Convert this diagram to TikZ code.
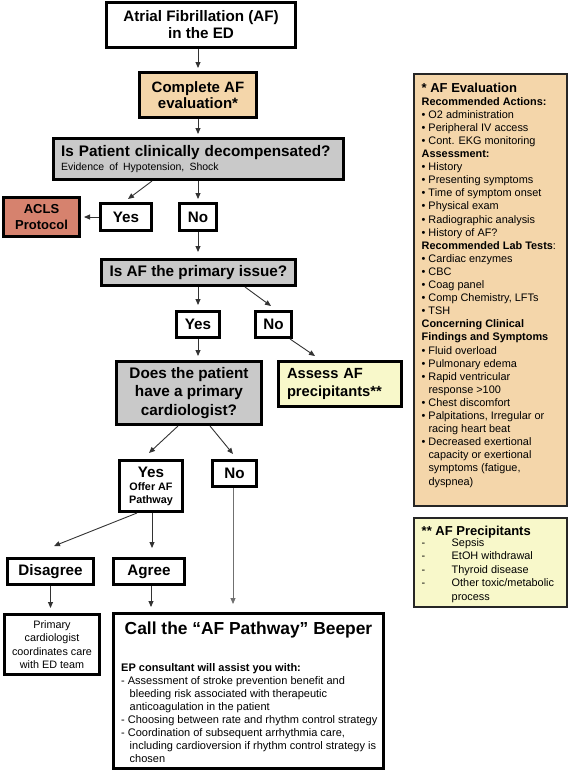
\documentclass[tikz,border=0pt]{standalone}
\usepackage{fontspec}
\setmainfont{Liberation Sans}
\usetikzlibrary{arrows.meta}
\definecolor{tanfill}{HTML}{F4D6AA}
\definecolor{grayfill}{HTML}{C9C9C9}
\definecolor{aclsfill}{HTML}{D6826E}
\definecolor{yelfill}{HTML}{F8F8CA}
\definecolor{arrgray}{HTML}{333333}
\definecolor{linegray}{HTML}{707070}
\newcommand{\fsz}[2]{\fontsize{#1}{#2}\selectfont}
\newcommand{\bul}{\makebox[6.8pt][l]{•}}
\newcommand{\ind}{\hspace*{6.8pt}}
\begin{document}
\begin{tikzpicture}[x=1pt,y=-1pt,
  bx/.style={draw=black, line width=2.6pt, inner sep=0pt, align=center,
    font=\bfseries\fsz{15.2}{17}},
  sz/.style 2 args={minimum width=#1pt-2.6pt, minimum height=#2pt-2.6pt},
  side/.style={draw=black!85, line width=2pt, inner sep=0pt},
  arr/.style={draw=arrgray, line width=0.9pt, -{Triangle[length=6pt,width=5pt]}},
]
\useasboundingbox (0,0) rectangle (569,771);

% main flow boxes
\node[bx, sz={192}{48}] (top) at (201,25) {Atrial Fibrillation (AF)\\in the ED};
\node[bx, sz={120}{48}, fill=tanfill, font=\bfseries\fsz{15}{16.7}] (eval) at (198,95) {Complete AF\\evaluation*};
\node[bx, sz={293}{44}, fill=grayfill, text width=275pt, align=left, font=\bfseries\fsz{15.3}{17}] (decomp) at (198.5,159)
  {Is Patient clinically decompensated?\\[-3.7pt]{\mdseries\fsz{10.5}{13}Evidence of Hypotension, Shock}};
\node[bx, sz={79}{42}, fill=aclsfill, font=\bfseries\fsz{13}{15.3}] (acls) at (41.5,217) {ACLS\\Protocol};
\node[bx, sz={54}{30}] (yes1) at (126,217) {Yes};
\node[bx, sz={40}{30}] (no1) at (198,217) {No};
\node[bx, sz={197}{29}, fill=grayfill, font=\bfseries\fsz{15.3}{17}] (pi) at (198.5,272.5) {Is AF the primary issue?};
\node[bx, sz={46}{29}] (yes2) at (198,324.5) {Yes};
\node[bx, sz={39}{29}] (no2) at (273.5,324.5) {No};
\node[bx, sz={148}{66}, fill=grayfill, font=\bfseries\fsz{15.3}{18.7}] (does) at (189,393) {Does the patient\\have a primary\\cardiologist?};
\node[bx, sz={126}{48}, fill=yelfill, text width=106pt, inner xsep=8.7pt, align=left, font=\bfseries\fsz{14.7}{17.4}] (assess) at (340,384) {Assess AF\\precipitants**};
\node[bx, sz={66}{54}] (yes3) at (151,486) {Yes\\[-4pt]{\fsz{10.8}{13}Offer AF}\\[-4pt]{\fsz{10.8}{13}Pathway}};
\node[bx, sz={47}{29}] (no3) at (234.5,473.5) {No};
\node[bx, sz={89}{29}] (disagree) at (50.5,571.5) {Disagree};
\node[bx, sz={74}{29}] (agree) at (149,571.5) {Agree};
\node[bx, sz={98}{63}, font=\mdseries\fsz{10.8}{13.3}] (primary) at (52,644.5) {Primary\\cardiologist\\coordinates care\\with ED team};
\node[bx, sz={273}{158}] (call) at (248.5,691) {};
\node[anchor=base, inner sep=0pt, font=\bfseries\fsz{17.4}{20}] (calltitle) at (248.5,634.2) {Call the “AF Pathway” Beeper};
\node[anchor=base west, inner sep=0pt, align=left, font=\fsz{11}{13}] (callbody) at (121,762)
  {\textbf{EP consultant will  assist you with:}\\
   - Assessment of stroke prevention benefit and\\
   \hspace*{8.5pt}bleeding risk associated with therapeutic\\
   \hspace*{8.5pt}anticoagulation in the patient\\
   - Choosing between rate and rhythm control strategy\\
   - Coordination of subsequent arrhythmia care,\\
   \hspace*{8.5pt}including cardioversion if rhythm control strategy is\\
   \hspace*{8.5pt}chosen};

% side boxes
\node[side, fill=tanfill, minimum width=153pt, minimum height=432pt] (afeval) at (490.5,290) {};
\node[anchor=base west, inner sep=0pt, align=left, font=\fsz{10.9}{13.1}] (afevaltext) at (421.5,485)
  {{\bfseries\fsz{13}{13.1}* AF Evaluation}\\
   \textbf{Recommended Actions:}\\
   \bul O2 administration\\
   \bul Peripheral IV access\\
   \bul Cont. EKG monitoring\\
   \textbf{Assessment:}\\
   \bul History\\
   \bul Presenting symptoms\\
   \bul Time of symptom onset\\
   \bul Physical exam\\
   \bul Radiographic analysis\\
   \bul History of AF?\\
   \textbf{Recommended Lab Tests}:\\
   \bul Cardiac enzymes\\
   \bul CBC\\
   \bul Coag panel\\
   \bul Comp Chemistry, LFTs\\
   \bul TSH\\
   \textbf{Concerning Clinical}\\
   \textbf{Findings and Symptoms}\\
   \bul Fluid overload\\
   \bul Pulmonary edema\\
   \bul Rapid ventricular\\
   \ind response >100\\
   \bul Chest discomfort\\
   \bul Palpitations, Irregular or\\
   \ind racing heart beat\\
   \bul Decreased exertional\\
   \ind capacity or exertional\\
   \ind symptoms (fatigue,\\
   \ind dyspnea)};
\node[side, fill=yelfill, minimum width=153pt, minimum height=89pt] (precip) at (490.5,562.5) {};
\node[anchor=base west, inner sep=0pt, align=left, font=\fsz{10.9}{13.5}] (preciptext) at (421.5,600.3)
  {{\bfseries\fsz{13}{13.5}** AF Precipitants}\\[-2.8pt]
   \makebox[30pt][l]{-}Sepsis\\
   \makebox[30pt][l]{-}EtOH withdrawal\\
   \makebox[30pt][l]{-}Thyroid disease\\
   \makebox[30pt][l]{-}Other toxic/metabolic\\
   \hspace*{30pt}process};

% connectors
\draw[arr] (top.south -| eval.north) -- ([yshift=3pt]eval.north);
\draw[arr] (eval.south) -- ([yshift=3pt]eval.south |- decomp.north);
\draw[arr] ([xshift=-46.5pt]decomp.south) -- ([xshift=2pt,yshift=3pt]yes1.north);
\draw[arr] (no1.north |- decomp.south) -- ([yshift=3pt]no1.north);
\draw[arr] (yes1.west) -- ([xshift=3pt]acls.east);
\draw[arr] (no1.south) -- ([yshift=6pt]no1.south |- pi.north);
\draw[arr] (yes2.north |- pi.south) -- ([yshift=5pt]yes2.north);
\draw[arr] ([xshift=46.5pt]pi.south) -- ([xshift=-2.5pt,yshift=4pt]no2.north);
\draw[arr] (yes2.south) -- ([yshift=4pt]yes2.south |- does.north);
\draw[arr] ([xshift=16.5pt]no2.south) -- ([xshift=-25pt,yshift=4pt]assess.north);
\draw[arr] ([xshift=-11pt]does.south) -- ([xshift=-2pt,yshift=6pt]yes3.north);
\draw[arr] ([xshift=21pt]does.south) -- ([xshift=-1.5pt,yshift=5pt]no3.north);
\draw[arr, draw=linegray] ([xshift=-1.5pt]no3.south) -- ([xshift=-1.5pt,yshift=8pt]no3.south |- call.north);
\draw[arr] ([xshift=-14pt]yes3.south) -- ([xshift=3.5pt,yshift=11pt]disagree.north);
\draw[arr] ([xshift=1pt]yes3.south) -- ([xshift=1pt,yshift=9pt]yes3.south |- agree.north);
\draw[arr] (disagree.south) -- ([yshift=5pt]disagree.south |- primary.north);
\draw[arr] ([xshift=2pt]agree.south) -- ([xshift=2pt,yshift=5pt]agree.south |- call.north);
\end{tikzpicture}
\end{document}
